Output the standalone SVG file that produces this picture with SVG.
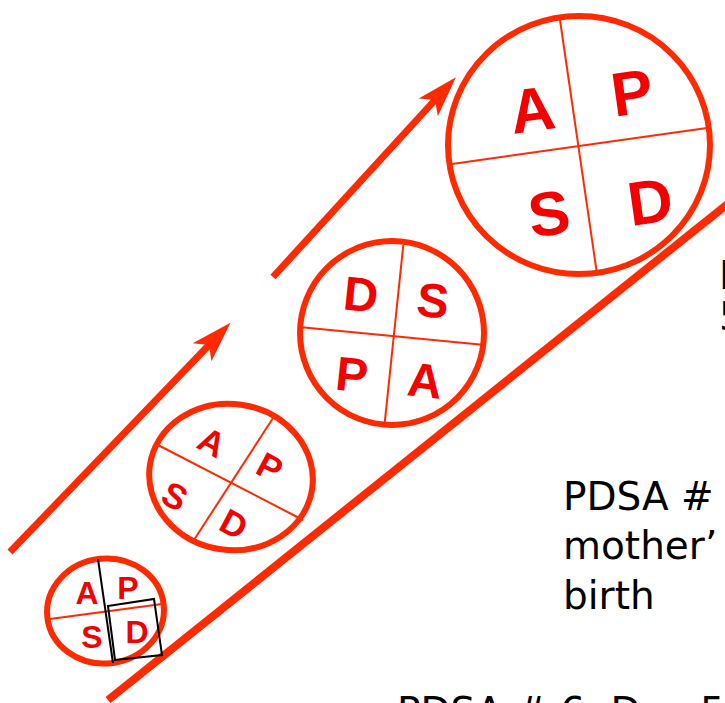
<svg xmlns="http://www.w3.org/2000/svg" width="725" height="703" viewBox="0 0 725 703">
  <defs>
    <marker id="head" viewBox="0 0 42 28" refX="10" refY="14" markerWidth="42" markerHeight="28" markerUnits="userSpaceOnUse" orient="auto">
      <path d="M41,14 L0,1 L10,14 L0,27 Z" fill="#ff2a00"/>
    </marker>
  </defs>
  <style>
    .ring { fill: none; stroke: #ff2a00; stroke-width: 6; }
    .div { stroke: #ff2a00; stroke-width: 2; fill: none; }
    .blk { stroke: #000; stroke-width: 2; fill: none; }
    .q { font-family: "Liberation Sans", Arial, sans-serif; font-weight: bold; fill: #f50000; text-anchor: middle; }
    .lbl { font-family: "DejaVu Sans", Verdana, sans-serif; font-size: 39px; fill: #000; }
    .arrow { stroke: #ff2a00; stroke-width: 7; fill: none; }
  </style>
  <rect width="725" height="703" fill="#fff"/>

  <g id="connectors">
    <line class="arrow" x1="10" y1="552" x2="209" y2="345" marker-end="url(#head)"/>
    <line class="arrow" x1="273" y1="277" x2="435" y2="100" marker-end="url(#head)"/>
    <line x1="108" y1="700" x2="745" y2="190" stroke="#ff2a00" stroke-width="8"/>
  </g>

  <g id="cycle1">
    <ellipse class="ring" cx="105.5" cy="611" rx="58.5" ry="52.5" transform="rotate(-6 105.5 611)"/>
    <line class="div" x1="50" y1="619" x2="162" y2="604"/>
    <line class="blk" x1="98" y1="559" x2="113" y2="663"/>
    <polygon class="blk" points="108,606 154,599 162,655 115,660"/>
    <g class="q" font-size="32">
      <text x="87" y="603.5">A</text>
      <text x="128" y="598.5">P</text>
      <text x="92" y="647.5">S</text>
      <text x="137" y="642.5">D</text>
    </g>
  </g>

  <g id="cycle2">
    <ellipse class="ring" cx="231" cy="477" rx="82" ry="73" transform="rotate(8 231 477)"/>
    <line class="div" x1="158" y1="445" x2="303" y2="520"/>
    <line class="div" x1="275" y1="415" x2="192" y2="543"/>
    <g class="q" font-size="35">
      <text transform="translate(212 442) rotate(28)" y="12.5">A</text>
      <text transform="translate(270 467) rotate(28)" y="12.5">P</text>
      <text transform="translate(175 496) rotate(28)" y="12.5">S</text>
      <text transform="translate(234 524) rotate(28)" y="12.5">D</text>
    </g>
  </g>

  <g id="cycle3">
    <circle class="ring" cx="392" cy="333" r="92"/>
    <line class="div" x1="301.7" y1="327.3" x2="485" y2="345"/>
    <line class="div" x1="403.3" y1="245" x2="384.3" y2="426.7"/>
    <g class="q" font-size="48">
      <text transform="translate(361 294) rotate(6)" y="17.2">D</text>
      <text transform="translate(433 300) rotate(6)" y="17.2">S</text>
      <text transform="translate(352 374) rotate(6)" y="17.2">P</text>
      <text transform="translate(425 380) rotate(6)" y="17.2">A</text>
    </g>
  </g>

  <g id="cycle4">
    <ellipse class="ring" cx="579" cy="145" rx="131" ry="129"/>
    <line class="div" x1="452" y1="164" x2="707" y2="128"/>
    <line class="div" x1="560" y1="20" x2="597" y2="274"/>
    <g class="q" font-size="62">
      <text transform="translate(532 109) rotate(-8)" y="22.2">A</text>
      <text transform="translate(632 92) rotate(-8)" y="22.2">P</text>
      <text transform="translate(549 213) rotate(-8)" y="22.2">S</text>
      <text transform="translate(650 201) rotate(-8)" y="22.2">D</text>
    </g>
  </g>

  <g id="labels">
    <text class="lbl" x="719" y="289">P</text>
    <text class="lbl" x="719" y="330">5</text>
    <text class="lbl" x="563" y="510">PDSA #</text>
    <text class="lbl" x="563" y="559">mother’</text>
    <text class="lbl" x="563" y="609">birth</text>
    <text class="lbl" x="397" y="725">PDSA # 6: Day 5</text>
  </g>
</svg>
